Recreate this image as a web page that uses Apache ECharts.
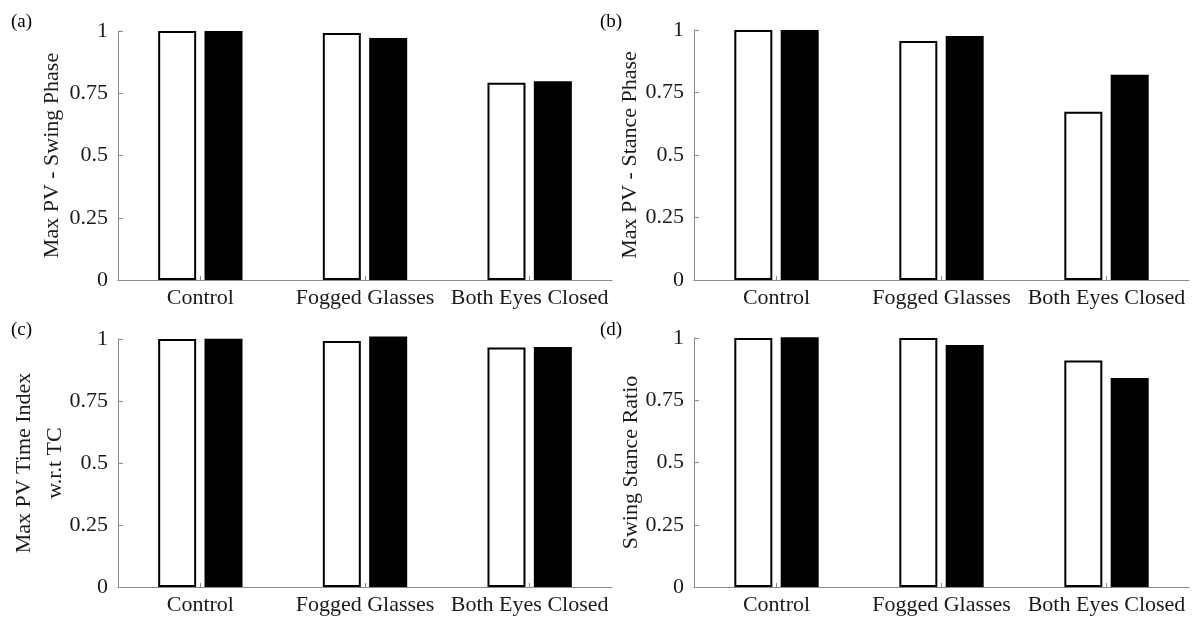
<!DOCTYPE html>
<html>
<head>
<meta charset="utf-8">
<script src="https://cdn.jsdelivr.net/npm/echarts@6/dist/echarts.min.js"></script>
<style>
html,body{margin:0;padding:0;background:#fff;}
#chart{width:1192px;height:619px;}
</style>
</head>
<body>
<div id="chart"></div>
<script>
const categories = ['Control', 'Fogged Glasses', 'Both Eyes Closed'];
const yTicks = [0, 0.25, 0.5, 0.75, 1];

const swingWhite = [1.000, 0.992, 0.792];
const swingBlack = [1.000, 0.972, 0.798];
const stanceWhite = [1.000, 0.956, 0.673];
const stanceBlack = [1.000, 0.976, 0.821];
const timeWhite = [1.000, 0.992, 0.966];
const timeBlack = [1.001, 1.010, 0.968];
const ratioWhite = [1.000, 1.000, 0.910];
const ratioBlack = [1.003, 0.972, 0.839];

const yTitles = ['Max PV - Swing Phase', 'Max PV - Stance Phase', 'Max PV Time Index\nw.r.t TC', 'Swing Stance Ratio'];
const panelLabels = ['(a)', '(b)', '(c)', '(d)'];

const panels = [
  {white: swingWhite, black: swingBlack},
  {white: stanceWhite, black: stanceBlack},
  {white: timeWhite, black: timeBlack},
  {white: ratioWhite, black: ratioBlack}
];

const FONT = 'Liberation Serif';
const grids = [
  {left: 118, top: 31, width: 494, height: 249},
  {left: 694, top: 30, width: 495, height: 250},
  {left: 118, top: 339, width: 494, height: 248},
  {left: 694, top: 338, width: 495, height: 249}
];
const nameGaps = [54, 52, 47, 51];
const nameLineHeights = [24, 24, 31, 24];
const labelPos = [[11, 13], [600, 13], [11, 321], [600, 321]];

const axisGray = '#8a8a8a';

const option = {
  animation: false,
  backgroundColor: '#fff',
  grid: grids,
  xAxis: grids.map((g, i) => ({
    type: 'category',
    gridIndex: i,
    data: categories,
    boundaryGap: true,
    axisLine: {lineStyle: {color: axisGray, width: 1}},
    axisTick: {show: true, inside: true, length: 4, alignWithLabel: true, lineStyle: {color: axisGray}},
    axisLabel: {fontFamily: FONT, fontSize: 22, color: '#1a1a1a', margin: 7, interval: 0, hideOverlap: false},
    splitLine: {show: false}
  })),
  yAxis: grids.map((g, i) => ({
    type: 'value',
    gridIndex: i,
    min: yTicks[0],
    max: yTicks[yTicks.length - 1],
    interval: yTicks[1] - yTicks[0],
    name: yTitles[i],
    nameLocation: 'middle',
    nameGap: nameGaps[i],
    nameMoveOverlap: false,
    nameTextStyle: {fontFamily: FONT, fontSize: 22, color: '#1a1a1a', lineHeight: nameLineHeights[i]},
    axisLine: {show: true, lineStyle: {color: axisGray, width: 1}},
    axisTick: {show: true, inside: true, length: 5, lineStyle: {color: axisGray}},
    axisLabel: {fontFamily: FONT, fontSize: 22, color: '#1a1a1a', margin: 10,
      formatter: v => String(v)},
    splitLine: {show: false}
  })),
  series: panels.flatMap((p, i) => [
    {
      type: 'bar', xAxisIndex: i, yAxisIndex: i,
      data: p.white, barWidth: 38, barGap: '22%', clip: false,
      itemStyle: {color: '#fff', borderColor: '#000', borderWidth: 2},
      emphasis: {disabled: true}
    },
    {
      type: 'bar', xAxisIndex: i, yAxisIndex: i,
      data: p.black, barWidth: 38, barGap: '22%', clip: false,
      itemStyle: {color: '#000', borderColor: '#000', borderWidth: 2},
      emphasis: {disabled: true}
    }
  ]),
  graphic: panelLabels.map((t, i) => ({
    type: 'text', left: labelPos[i][0], top: labelPos[i][1],
    style: {text: t, fontFamily: FONT, fontSize: 19, fill: '#000'}
  }))
};

const chart = echarts.init(document.getElementById('chart'), null, {renderer: 'canvas'});
chart.setOption(option);
</script>
</body>
</html>
